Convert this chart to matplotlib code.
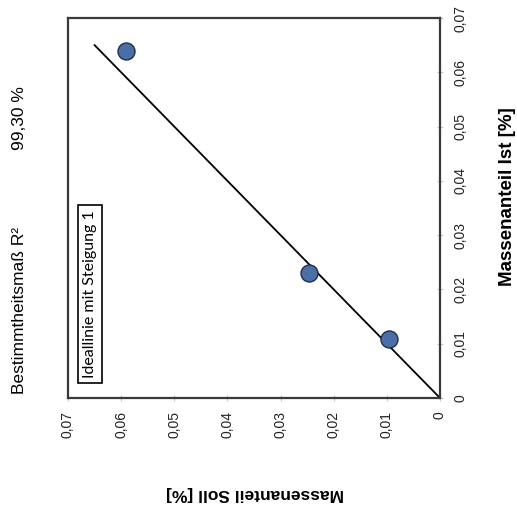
import matplotlib
matplotlib.use("Agg")
import matplotlib.pyplot as plt

plt.rcParams['font.family'] = ['Liberation Sans', 'DejaVu Sans']

# Data
soll = [0.0591, 0.0247, 0.0096]   # Massenanteil Soll [%]
ist = [0.0640, 0.0230, 0.0109]    # Massenanteil Ist [%]
ideal = [0.0, 0.065]              # Ideallinie mit Steigung 1
tick_vals = [0.0, 0.01, 0.02, 0.03, 0.04, 0.05, 0.06, 0.07]
tick_labels = ["0", "0,01", "0,02", "0,03", "0,04", "0,05", "0,06", "0,07"]
r2_label = "Bestimmtheitsmaß R²"
r2_value = "99,30 %"
legend_label = "Ideallinie mit Steigung 1"

fig = plt.figure(figsize=(5.17, 5.11), dpi=100)
ax = fig.add_axes([68/517, 1-398/511, (440-68)/517, (398-18)/511])

ax.plot(ideal, ideal, color='black', lw=1.3, zorder=2)
ax.scatter(soll, ist, s=150, color='#4a6ea6', edgecolor='#1f2f4a', linewidth=1.0, zorder=3)

ax.set_xlim(0.07, 0)
ax.set_ylim(0, 0.07)
ax.yaxis.tick_right()
ax.set_xticks(tick_vals)
ax.set_xticklabels(tick_labels, rotation=90, va='top', ha='center')
ax.set_yticks(tick_vals)
ax.set_yticklabels(tick_labels, rotation=90, va='center', ha='left')
ax.tick_params(axis='both', direction='inout', length=5, width=0.8, color='#c8c8c8',
               labelsize=10, labelcolor='#222222', pad=7)
for s in ax.spines.values():
    s.set_color('#3a3a3a')
    s.set_linewidth(1.6)

fig.text(508/517, 1-197/511, "Massenanteil Ist [%]", rotation=90, ha='center', va='center',
         fontsize=13.5, fontweight='bold')
fig.text(255/517, 1-493/511, "Massenanteil Soll [%]", rotation=180, ha='center', va='center',
         fontsize=12.5, fontweight='bold')

fig.text(20/517, 1-394/511, r2_label, rotation=90, ha='center', va='bottom', fontsize=12.5)
fig.text(20/517, 1-150/511, r2_value, rotation=90, ha='center', va='bottom', fontsize=12.5)

fig.text(90/517, 1-294/511, legend_label, rotation=90, ha='center', va='center',
         fontsize=11.5, family=['Lato', 'DejaVu Sans'],
         bbox=dict(boxstyle='square,pad=0.3', facecolor='white', edgecolor='black', linewidth=1.2))

fig.savefig("out.png", dpi=100)
